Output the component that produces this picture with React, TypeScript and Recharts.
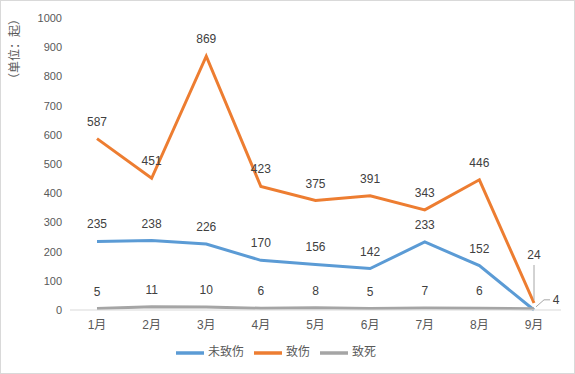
import React from "react";
import { LineChart, Line, XAxis, YAxis, Legend, LabelList } from "recharts";

const months = ["1月", "2月", "3月", "4月", "5月", "6月", "7月", "8月", "9月"];
const notInjured = [235, 238, 226, 170, 156, 142, 233, 152, 0];
const injured = [587, 451, 869, 423, 375, 391, 343, 446, 24];
const fatal = [5, 11, 10, 6, 8, 5, 7, 6, 4];
const yTicks = [0, 100, 200, 300, 400, 500, 600, 700, 800, 900, 1000];

const data = months.map((m, i) => ({
  month: m,
  未致伤: notInjured[i],
  致伤: injured[i],
  致死: fatal[i],
}));

const FONT = "'Liberation Sans', 'Noto Sans CJK SC', sans-serif";
const LABEL_COLOR = "#404040";

const makeLabel = (series: string) => (props: any) => {
  const { x, y, value, index } = props;
  const last = index === months.length - 1;
  if (series === "未致伤" && last) return null;
  if (series === "致伤" && last) {
    return (
      <g>
        <line x1={x} y1={y - 3} x2={x} y2={y - 38} stroke="#a6a6a6" strokeWidth={1} />
        <text x={x} y={y - 44} textAnchor="middle" fontSize={12} fill={LABEL_COLOR} fontFamily={FONT}>
          {value}
        </text>
      </g>
    );
  }
  if (series === "致死" && last) {
    return (
      <g>
        <polyline points={`${x + 2},${y - 2} ${x + 10},${y - 9} ${x + 16},${y - 9}`} fill="none" stroke="#a6a6a6" strokeWidth={1} />
        <text x={x + 22} y={y - 5} textAnchor="middle" fontSize={12} fill={LABEL_COLOR} fontFamily={FONT}>
          {value}
        </text>
      </g>
    );
  }
  return (
    <text x={x} y={y - 13} textAnchor="middle" fontSize={12} fill={LABEL_COLOR} fontFamily={FONT}>
      {value}
    </text>
  );
};

const YLabel = () => (
  <text
    x={14}
    y={48}
    transform="rotate(-90, 14, 48)"
    textAnchor="middle"
    dominantBaseline="central"
    fontSize={12}
    fill="#595959"
    fontFamily={FONT}
  >
    （单位：起）
  </text>
);

export default function App() {
  return (
    <div
      style={{
        position: "absolute",
        left: 0,
        top: 0,
        width: 575,
        height: 374,
        boxSizing: "border-box",
        border: "1px solid #d9d9d9",
        background: "#fff",
        fontFamily: FONT,
      }}
    >
      <LineChart
        width={573}
        height={372}
        data={data}
        margin={{ top: 17, right: 13, bottom: 5, left: 0 }}
      >
        <XAxis
          dataKey="month"
          axisLine={{ stroke: "#d9d9d9" }}
          tickLine={false}
          padding={{ left: 27, right: 27 }}
          tick={{ fontSize: 12, fill: "#595959", fontFamily: FONT }}
          tickMargin={4}
        />
        <YAxis
          width={69}
          domain={[0, 1000]}
          ticks={yTicks}
          axisLine={false}
          tickLine={false}
          tick={{ fontSize: 11, fill: "#595959", fontFamily: FONT }}
          label={<YLabel />}
        />
        <Legend
          verticalAlign="bottom"
          iconType="plainline"
          iconSize={28}
          wrapperStyle={{ fontSize: 12, color: "#595959", bottom: 6 }}
          formatter={(v: string) => <span style={{ color: "#595959" }}>{v}</span>}
        />
        <Line dataKey="未致伤" stroke="#5B9BD5" strokeWidth={3} dot={false} isAnimationActive={false}>
          <LabelList dataKey="未致伤" content={makeLabel("未致伤")} />
        </Line>
        <Line dataKey="致伤" stroke="#ED7D31" strokeWidth={3} dot={false} isAnimationActive={false}>
          <LabelList dataKey="致伤" content={makeLabel("致伤")} />
        </Line>
        <Line dataKey="致死" stroke="#A5A5A5" strokeWidth={3} dot={false} isAnimationActive={false}>
          <LabelList dataKey="致死" content={makeLabel("致死")} />
        </Line>
      </LineChart>
    </div>
  );
}
